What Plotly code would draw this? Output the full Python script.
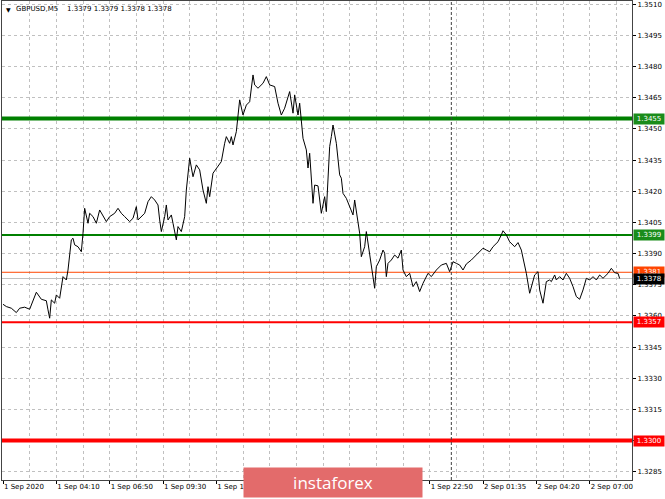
import plotly.graph_objects as go

# ---- data (M5 bar index -> close price) ----
bars = [0, 2, 5, 8, 10, 13, 16, 20, 23, 26,
        27, 28, 29, 31, 32, 34, 36, 38, 39, 41,
        42, 43, 45, 47, 48, 49, 51, 52, 54, 56,
        58, 60, 62, 64, 67, 69, 71, 73, 76, 78,
        80, 81, 83, 85, 87, 89, 91, 93, 94, 95,
        97, 98, 99, 101, 102, 104, 105, 107, 109, 110,
        112, 114, 116, 118, 120, 122, 123, 124, 126, 129,
        131, 133, 134, 136, 137, 138, 140, 142, 143, 144,
        146, 148, 150, 151, 153, 156, 158, 160, 163, 165,
        167, 169, 172, 174, 175, 177, 178, 179, 180, 182,
        183, 184, 186, 187, 189, 191, 193, 194, 196, 197,
        198, 200, 202, 203, 204, 206, 208, 210, 211, 213,
        214, 215, 217, 218, 220, 222, 223, 224, 226, 228,
        229, 230, 231, 233, 235, 237, 239, 240, 242, 244,
        246, 248, 250, 252, 255, 257, 260, 263, 266, 268,
        270, 272, 274, 276, 278, 281, 283, 286, 288, 290,
        292, 294, 297, 299, 300, 302, 304, 307, 309, 311,
        313, 314, 316, 318, 319, 321, 322, 324, 326, 328,
        329, 331, 332, 334, 336, 338, 340, 342, 344, 346,
        348, 350, 352, 354, 356, 358, 360, 363, 365, 367,
        369, 370]

closes = [1.33656, 1.33645, 1.33637, 1.33616, 1.33637, 1.33642, 1.33632, 1.33714, 1.33680, 1.33673,
          1.33629, 1.33589, 1.33677, 1.33661, 1.33701, 1.33685, 1.33789, 1.33773, 1.33821, 1.33966,
          1.33974, 1.33942, 1.33933, 1.33909, 1.33998, 1.34118, 1.34046, 1.34094, 1.34078, 1.34046,
          1.34110, 1.34078, 1.34054, 1.34078, 1.34094, 1.34118, 1.34094, 1.34078, 1.34054, 1.34070,
          1.34126, 1.34062, 1.34078, 1.34094, 1.34150, 1.34174, 1.34158, 1.34134, 1.34062, 1.34006,
          1.34078, 1.34134, 1.34062, 1.34086, 1.34046, 1.33966, 1.34030, 1.34006, 1.34078, 1.34206,
          1.34359, 1.34270, 1.34327, 1.34303, 1.34206, 1.34142, 1.34222, 1.34174, 1.34287, 1.34318,
          1.34343, 1.34431, 1.34463, 1.34431, 1.34463, 1.34423, 1.34487, 1.34640, 1.34607, 1.34567,
          1.34615, 1.34631, 1.34760, 1.34712, 1.34696, 1.34720, 1.34752, 1.34712, 1.34704, 1.34624,
          1.34567, 1.34600, 1.34680, 1.34576, 1.34664, 1.34567, 1.34624, 1.34551, 1.34455, 1.34399,
          1.34312, 1.34383, 1.34142, 1.34230, 1.34226, 1.34094, 1.34174, 1.34102, 1.34415, 1.34463,
          1.34519, 1.34431, 1.34279, 1.34263, 1.34190, 1.34166, 1.34126, 1.34086, 1.34158, 1.34062,
          1.33998, 1.33885, 1.33933, 1.34006, 1.33902, 1.33789, 1.33733, 1.33837, 1.33869, 1.33917,
          1.33902, 1.33789, 1.33853, 1.33869, 1.33893, 1.33878, 1.33917, 1.33821, 1.33789, 1.33805,
          1.33741, 1.33765, 1.33717, 1.33757, 1.33805, 1.33789, 1.33821, 1.33845, 1.33853, 1.33813,
          1.33861, 1.33853, 1.33845, 1.33821, 1.33850, 1.33869, 1.33885, 1.33909, 1.33926, 1.33917,
          1.33909, 1.33933, 1.33957, 1.33990, 1.34010, 1.33990, 1.33957, 1.33933, 1.33953, 1.33917,
          1.33845, 1.33805, 1.33709, 1.33773, 1.33797, 1.33813, 1.33725, 1.33661, 1.33765, 1.33773,
          1.33765, 1.33797, 1.33773, 1.33789, 1.33773, 1.33805, 1.33781, 1.33741, 1.33693, 1.33680,
          1.33725, 1.33781, 1.33773, 1.33789, 1.33773, 1.33797, 1.33781, 1.33805, 1.33829, 1.33808,
          1.33805, 1.33780]

tick_bars = [0, 32, 64, 96, 128, 160, 192, 224, 256, 288, 320, 352]
tick_labels = ["1 Sep 2020", "1 Sep 04:10", "1 Sep 06:50", "1 Sep 09:30",
               "1 Sep 12:10", "1 Sep 14:50", "1 Sep 17:30", "1 Sep 20:10",
               "1 Sep 22:50", "2 Sep 01:35", "2 Sep 04:20", "2 Sep 07:00"]
day_separator_bar = 269
x_view = [-0.6, 377.4]
y_view = [1.32810, 1.35116]

symbol_label = "GBPUSD,M5"
header_ohlc = [1.3379, 1.3379, 1.3378, 1.3378]

level_prices = [1.3455, 1.3399, 1.3357, 1.3300]
level_colors = ["#008000", "#008000", "#ff0000", "#ff0000"]
level_box_colors = ["#1a8c1a", "#1a8c1a", "#ff0000", "#ff0000"]
level_widths = [4, 2, 2, 4]

ask_price = 1.3381
bid_price = 1.3378

FONT = "DejaVu Sans"
FS = 7

fig = go.Figure()

# horizontal level lines as traces (drawn above the grid, below price)
fig.add_trace(go.Scatter(x=x_view, y=[bid_price, bid_price], mode="lines",
                         line=dict(color="#c0c0c0", width=1), hoverinfo="skip", showlegend=False))
fig.add_trace(go.Scatter(x=x_view, y=[ask_price, ask_price], mode="lines",
                         line=dict(color="#ff4500", width=1), hoverinfo="skip", showlegend=False))
for p, c, w in zip(level_prices, level_colors, level_widths):
    fig.add_trace(go.Scatter(x=x_view, y=[p, p], mode="lines",
                             line=dict(color=c, width=w), hoverinfo="skip", showlegend=False))

fig.add_trace(go.Scatter(x=bars, y=closes, mode="lines",
                         line=dict(color="#000000", width=1),
                         hoverinfo="skip", showlegend=False))

shapes = [dict(type="line", xref="x", x0=day_separator_bar, x1=day_separator_bar,
               yref="paper", y0=0, y1=1,
               line=dict(color="#404040", width=1, dash="3px,2px"), layer="above")]

annotations = []
# header
annotations.append(dict(xref="paper", yref="paper", x=0, y=1, xanchor="left", yanchor="top",
                        xshift=2, yshift=-3, showarrow=False, text="▼",
                        font=dict(family=FONT, size=6, color="#000")))
annotations.append(dict(xref="paper", yref="paper", x=0, y=1, xanchor="left", yanchor="top",
                        xshift=12, yshift=-2, showarrow=False, text=symbol_label,
                        font=dict(family=FONT, size=FS, color="#000")))
annotations.append(dict(xref="paper", yref="paper", x=0, y=1, xanchor="left", yanchor="top",
                        xshift=63, yshift=-2, showarrow=False,
                        text=" ".join(f"{v:.4f}" for v in header_ohlc),
                        font=dict(family=FONT, size=FS, color="#000")))

def price_box(p, bg):
    return dict(xref="paper", yref="y", x=1, y=p, xanchor="left", yanchor="middle",
                xshift=1, showarrow=False, text=f"{p:.4f}", bgcolor=bg,
                width=28, height=8, borderpad=1, align="center",
                font=dict(family=FONT, size=FS, color="#ffffff"))

for p, bc in zip(level_prices, level_box_colors):
    annotations.append(price_box(p, bc))
annotations.append(price_box(ask_price, "#ff4500"))
annotations.append(price_box(bid_price, "#000000"))

# watermark logo
annotations.append(dict(xref="paper", yref="paper", x=0.5254, y=-0.0056,
                        xanchor="center", yanchor="middle", showarrow=False,
                        text="instaforex", bgcolor="#e36b6b", width=178, height=29,
                        borderpad=0, font=dict(family="Open Sans", size=17, color="#ffffff")))

fig.update_layout(
    width=665, height=499,
    margin=dict(l=2, r=33, t=1, b=19, pad=0),
    paper_bgcolor="#ffffff", plot_bgcolor="#ffffff",
    showlegend=False, hovermode=False,
    shapes=shapes, annotations=annotations,
    xaxis=dict(range=x_view, tickmode="array", tickvals=tick_bars, ticktext=tick_labels,
               ticklabelposition="outside right",
               showgrid=True, gridcolor="#c0c0c0", griddash="3px,3px", gridwidth=1,
               minor=dict(dtick=16, tick0=0, showgrid=True, gridcolor="#c0c0c0",
                          griddash="3px,3px", ticks=""),
               ticks="outside", ticklen=3, tickcolor="#000",
               showline=True, linecolor="#444", linewidth=1, mirror=True,
               zeroline=False, automargin=False,
               tickfont=dict(family=FONT, size=FS, color="#000")),
    yaxis=dict(side="right", range=y_view, tickmode="linear", tick0=1.3285,
               dtick=0.0015, tickformat=".4f",
               showgrid=True, gridcolor="#c0c0c0", griddash="3px,3px", gridwidth=1,
               ticks="outside", ticklen=3, tickcolor="#000",
               showline=True, linecolor="#444", linewidth=1, mirror=True,
               zeroline=False, automargin=False,
               tickfont=dict(family=FONT, size=FS, color="#000")),
)

fig.write_html("out.html", config={"displayModeBar": False},
               post_script="document.body.style.margin='0';document.body.style.padding='0';")
